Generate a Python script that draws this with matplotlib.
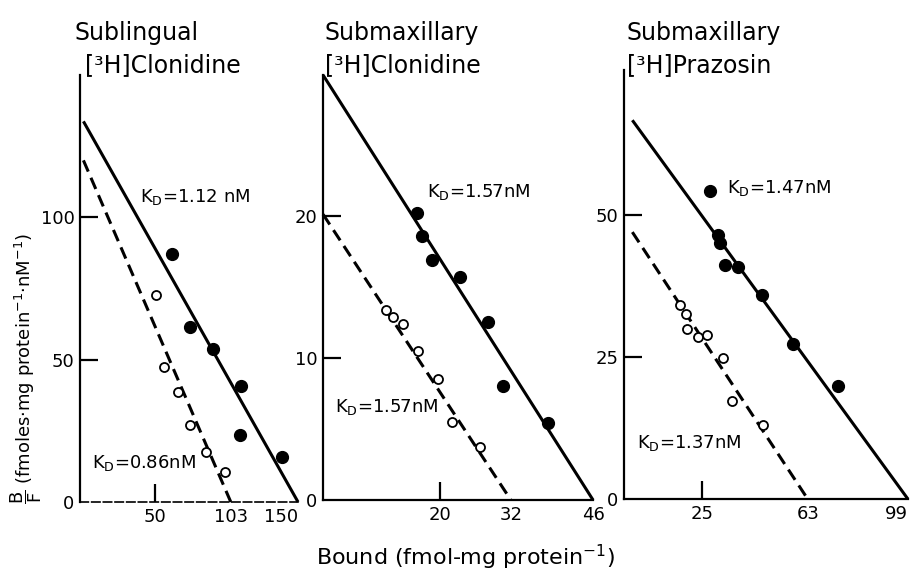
import numpy as np
import matplotlib
matplotlib.use('Agg')
import matplotlib.pyplot as plt

plt.rcParams['font.family'] = 'DejaVu Sans'
plt.rcParams['mathtext.fontset'] = 'dejavusans'

# Sublingual [3H]Clonidine (x = bound, y = B/F)
subl_filled_x = [62, 74.5, 90.7, 110, 109.5, 138.5]
subl_filled_y = [87, 61.4, 53.7, 40.7, 23.5, 15.8]
subl_open_x = [50.7, 56, 66, 74.5, 86, 99]
subl_open_y = [72.6, 47.4, 38.6, 27, 17.5, 10.5]
subl_fit_solid = (133.7, 150)   # (B/F intercept, Bmax)
subl_fit_dashed = (120, 103)

# Submaxillary [3H]Clonidine
smc_filled_x = [16, 16.8, 18.5, 23.3, 28.1, 30.7, 38.3]
smc_filled_y = [20.2, 18.6, 16.9, 15.7, 12.5, 8.0, 5.4]
smc_open_x = [10.7, 11.9, 13.6, 16.2, 19.6, 22, 26.7]
smc_open_y = [13.4, 12.9, 12.4, 10.5, 8.5, 5.5, 3.7]
smc_fit_solid = (29.9, 46)
smc_fit_dashed = (20.1, 32)

# Submaxillary [3H]Prazosin
smp_filled_x = [27.9, 30.8, 31.5, 33.3, 38, 46.5, 57.7, 73.9]
smp_filled_y = [54.2, 46.5, 45.1, 41.2, 40.9, 35.9, 27.3, 19.9]
smp_open_x = [17.1, 19.2, 19.6, 23.5, 26.7, 32.5, 35.9, 47]
smp_open_y = [34.2, 32.6, 29.9, 28.5, 28.9, 24.8, 17.3, 13]
smp_fit_solid = (66.7, 99)
smp_fit_dashed = (47, 63)

panels = [
    dict(title=['Sublingual', '[³H]Clonidine'], title_x=[0.082, 0.093],
         pos=[0.0879, 0.136, 0.2396, 0.735], xlim=(-2.4, 150), ylim=(0, 150),
         xticks=[50, 103, 150], xtick_marks=[True, False, False], last_right=True,
         yticks=[0, 50, 100], ytick_marks=[False, True, True],
         fx=subl_filled_x, fy=subl_filled_y, ox=subl_open_x, oy=subl_open_y,
         solid=subl_fit_solid, dashed=subl_fit_dashed,
         kd_hi='K$_\\mathrm{D}$=1.12 nM', kd_hi_pos=(140, 197),
         kd_lo='K$_\\mathrm{D}$=0.86nM', kd_lo_pos=(92, 463), dashed_axis=True),
    dict(title=['Submaxillary', '[³H]Clonidine'], title_x=[0.357, 0.357],
         pos=[0.355, 0.1394, 0.2967, 0.7315], xlim=(0, 46), ylim=(0, 29.9),
         xticks=[20, 32, 46], xtick_marks=[True, False, False], last_right=False,
         yticks=[0, 10, 20], ytick_marks=[False, True, True],
         fx=smc_filled_x, fy=smc_filled_y, ox=smc_open_x, oy=smc_open_y,
         solid=smc_fit_solid, dashed=smc_fit_dashed,
         kd_hi='K$_\\mathrm{D}$=1.57nM', kd_hi_pos=(427, 192),
         kd_lo='K$_\\mathrm{D}$=1.57nM', kd_lo_pos=(335, 407), dashed_axis=False),
    dict(title=['Submaxillary', '[³H]Prazosin'], title_x=[0.689, 0.689],
         pos=[0.6857, 0.1411, 0.312, 0.738], xlim=(-3, 99), ylim=(0, 75.5),
         xticks=[25, 63, 99], xtick_marks=[True, False, False], last_right=True,
         yticks=[0, 25, 50], ytick_marks=[False, True, True],
         fx=smp_filled_x, fy=smp_filled_y, ox=smp_open_x, oy=smp_open_y,
         solid=smp_fit_solid, dashed=smp_fit_dashed,
         kd_hi='K$_\\mathrm{D}$=1.47nM', kd_hi_pos=(727, 188),
         kd_lo='K$_\\mathrm{D}$=1.37nM', kd_lo_pos=(637, 443), dashed_axis=False),
]

W, H = 910, 581
fig = plt.figure(figsize=(W / 100, H / 100), dpi=100)

for p in panels:
    ax = fig.add_axes(p['pos'])
    ax.set_xlim(p['xlim'])
    ax.set_ylim(p['ylim'])
    for s in ['top', 'right']:
        ax.spines[s].set_visible(False)
    for s in ['left', 'bottom']:
        ax.spines[s].set_linewidth(1.6)
    if p['dashed_axis']:
        ax.spines['bottom'].set_linestyle((0, (5, 2)))
        ax.spines['bottom'].set_linewidth(1.2)

    # fitted Scatchard lines
    y0, bmax = p['solid']
    ax.plot([0, bmax], [y0, 0], color='black', lw=2.2, solid_capstyle='butt', clip_on=False)
    y0, bmax = p['dashed']
    ax.plot([0, bmax], [y0, 0], color='black', lw=2.2, ls=(0, (4, 2.2)), clip_on=False)

    ax.plot(p['fx'], p['fy'], 'o', color='black', ms=8.5, clip_on=False)
    ax.plot(p['ox'], p['oy'], 'o', mfc='white', mec='black', mew=1.3, ms=6.5, clip_on=False)

    ax.set_xticks(p['xticks'])
    ax.set_xticklabels([str(t) for t in p['xticks']])
    ax.set_yticks(p['yticks'])
    ax.set_yticklabels([str(t) for t in p['yticks']])
    ax.tick_params(direction='in', length=13, width=1.6, labelsize=13, pad=4)
    for t, vis in zip(ax.xaxis.get_major_ticks(), p['xtick_marks']):
        t.tick1line.set_visible(vis)
    for t, vis in zip(ax.yaxis.get_major_ticks(), p['ytick_marks']):
        t.tick1line.set_visible(vis)
    if p['last_right']:
        ax.get_xticklabels()[-1].set_ha('right')

    fig.text(p['title_x'][0], 1 - 40 / H, p['title'][0], fontsize=17, ha='left', va='baseline')
    fig.text(p['title_x'][1], 1 - 72 / H, p['title'][1], fontsize=17, ha='left', va='baseline')

    x, y = p['kd_hi_pos']
    fig.text(x / W, 1 - y / H, p['kd_hi'], fontsize=13, ha='left', va='center')
    x, y = p['kd_lo_pos']
    fig.text(x / W, 1 - y / H, p['kd_lo'], fontsize=13, ha='left', va='center')

fig.text(0.029, 0.365, r'$\dfrac{\mathrm{B}}{\mathrm{F}}$ (fmoles$\cdot$mg protein$^{-1}$$\cdot$nM$^{-1}$)',
         rotation=90, fontsize=13, ha='center', va='center')
fig.text(0.512, 0.041, r'Bound (fmol-mg protein$^{-1}$)', fontsize=16, ha='center', va='center')

fig.savefig('out.png', dpi=100, facecolor='white')
